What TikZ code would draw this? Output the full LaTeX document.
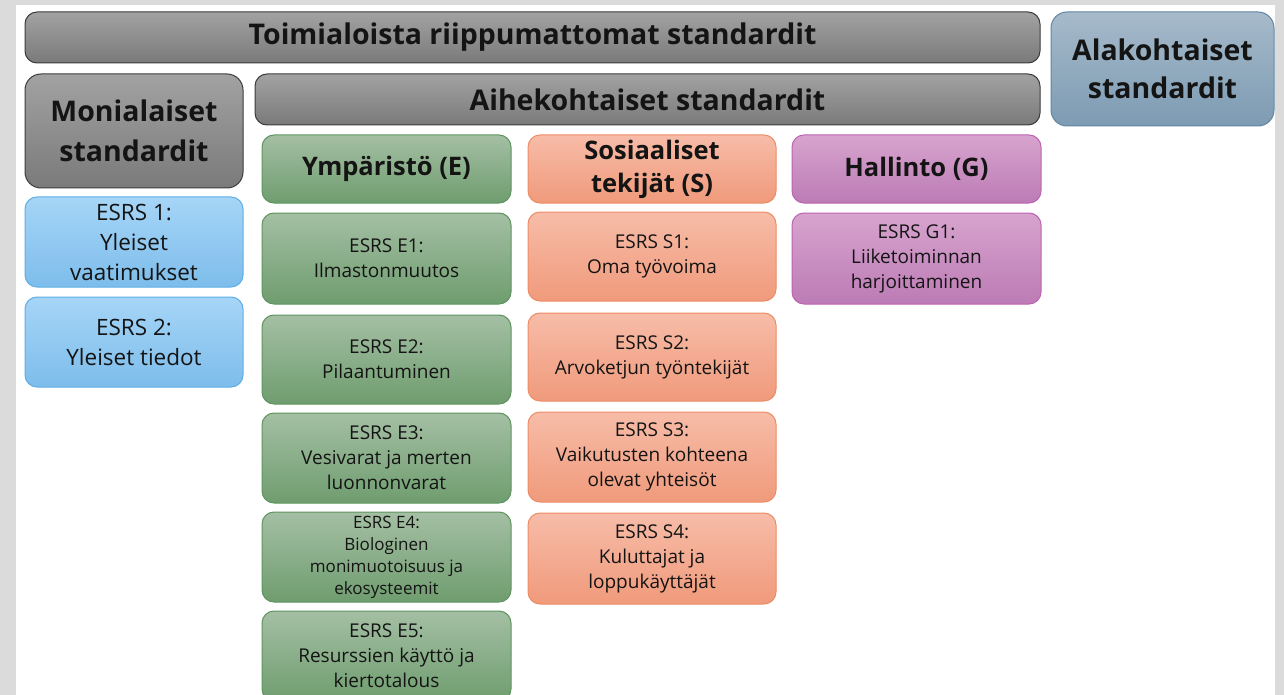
\documentclass[tikz,border=0pt]{standalone}
\usepackage{fontspec}
\setmainfont{Open Sans}
\definecolor{gtop}{HTML}{A2A2A2}\definecolor{gbot}{HTML}{7A7A7A}\definecolor{gdraw}{HTML}{3C3C3C}
\definecolor{btop}{HTML}{A6D5F7}\definecolor{bbot}{HTML}{7DBDEB}\definecolor{bdraw}{HTML}{5DAFE6}
\definecolor{etop}{HTML}{A4BFA4}\definecolor{ebot}{HTML}{6F9D6F}\definecolor{edraw}{HTML}{5E955E}
\definecolor{otop}{HTML}{F7BCA8}\definecolor{obot}{HTML}{F09A7B}\definecolor{odraw}{HTML}{EE8C66}
\definecolor{ptop}{HTML}{D7A4CE}\definecolor{pbot}{HTML}{BC7BB5}\definecolor{pdraw}{HTML}{BD62B2}
\definecolor{stop}{HTML}{A6BACA}\definecolor{sbot}{HTML}{7D9BB3}\definecolor{sdraw}{HTML}{5F86A3}
\begin{document}
\begin{tikzpicture}[x=1pt,y=-1pt,
  box/.style={rounded corners=12pt, draw, line width=1pt, inner sep=0pt, align=center, text=black!92},
  graybox/.style={box, draw=gdraw, top color=gtop, bottom color=gbot},
  bluebox/.style={box, draw=bdraw, top color=btop, bottom color=bbot},
  greenbox/.style={box, draw=edraw, top color=etop, bottom color=ebot},
  orangebox/.style={box, draw=odraw, top color=otop, bottom color=obot},
  purplebox/.style={box, draw=pdraw, top color=ptop, bottom color=pbot},
  steelbox/.style={box, draw=sdraw, top color=stop, bottom color=sbot},
  bigfont/.style={font=\fontsize{28.5}{38}\selectfont\bfseries},
  midfont/.style={font=\fontsize{25.5}{33}\selectfont\bfseries},
  bltxt/.style={font=\fontsize{22.5}{30}\selectfont},
  txt/.style={font=\fontsize{19}{25}\selectfont},
  smtxt/.style={font=\fontsize{17}{22}\selectfont}
]
\useasboundingbox (0,0) rectangle (1284,695);
\fill[black!14] (0,0) rectangle (1284,695);
\fill[white] (16,5) rectangle (1275,695);
\clip (0,0) rectangle (1284,695);

\node[graybox, bigfont, minimum width=1015pt, minimum height=51pt] (top) at (532.5,37.5) {Toimialoista riippumattomat standardit};
\node[steelbox, bigfont, minimum width=223pt, minimum height=114pt, rounded corners=16pt] (ala) at (1162.5,69) {Alakohtaiset\\standardit};
\node[graybox, bigfont, minimum width=218pt, minimum height=114pt, rounded corners=16pt] (moni) at (134,131) {Monialaiset\\[2pt]standardit};
\node[graybox, bigfont, minimum width=785pt, minimum height=51pt] (aihe) at (647.5,99.5) {Aihekohtaiset standardit};

\node[bluebox, bltxt, minimum width=218pt, minimum height=90pt] (es1) at (134,242) {ESRS 1:\\Yleiset\\vaatimukset};
\node[bluebox, bltxt, minimum width=218pt, minimum height=90pt] (es2) at (134,342) {ESRS 2:\\Yleiset tiedot};

\node[greenbox, midfont, minimum width=249pt, minimum height=68pt] (E) at (386.5,169) {Ympäristö (E)};
\node[greenbox, txt, minimum width=249pt, minimum height=91pt] (E1) at (386.5,258.5) {ESRS E1:\\Ilmastonmuutos};
\node[greenbox, txt, minimum width=249pt, minimum height=89pt] (E2) at (386.5,359.5) {ESRS E2:\\Pilaantuminen};
\node[greenbox, txt, minimum width=249pt, minimum height=90pt] (E3) at (386.5,458) {ESRS E3:\\Vesivarat ja merten\\luonnonvarat};
\node[greenbox, smtxt, minimum width=249pt, minimum height=90pt] (E4) at (386.5,557) {ESRS E4:\\Biologinen\\monimuotoisuus ja\\ekosysteemit};
\node[greenbox, txt, minimum width=249pt, minimum height=90pt] (E5) at (386.5,656) {ESRS E5:\\Resurssien käyttö ja\\kiertotalous};

\node[orangebox, midfont, minimum width=248pt, minimum height=68pt] (S) at (652,169) {Sosiaaliset\\tekijät (S)};
\node[orangebox, txt, minimum width=248pt, minimum height=89pt] (S1) at (652,256.5) {ESRS S1:\\Oma työvoima};
\node[orangebox, txt, minimum width=248pt, minimum height=88pt] (S2) at (652,357) {ESRS S2:\\Arvoketjun työntekijät};
\node[orangebox, txt, minimum width=248pt, minimum height=90pt] (S3) at (652,457) {ESRS S3:\\Vaikutusten kohteena\\olevat yhteisöt};
\node[orangebox, txt, minimum width=248pt, minimum height=91pt] (S4) at (652,558.5) {ESRS S4:\\Kuluttajat ja\\loppukäyttäjät};

\node[purplebox, midfont, minimum width=249pt, minimum height=68pt] (G) at (916.5,169) {Hallinto (G)};
\node[purplebox, txt, minimum width=249pt, minimum height=91pt] (G1) at (916.5,258.5) {ESRS G1:\\Liiketoiminnan\\harjoittaminen};
\end{tikzpicture}
\end{document}
